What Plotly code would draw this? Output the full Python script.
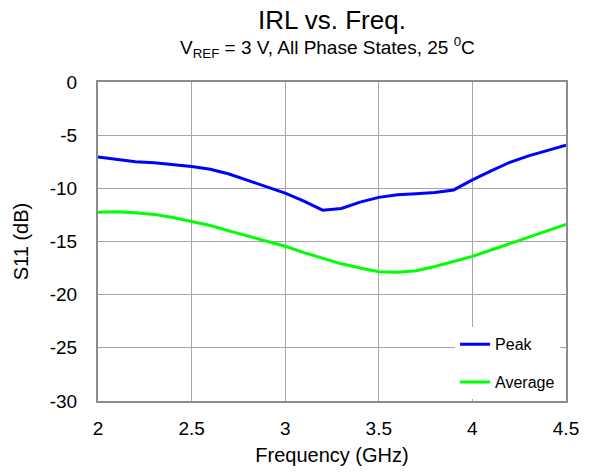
import plotly.graph_objects as go

freq = [2.0, 2.1, 2.2, 2.3, 2.4, 2.5, 2.6, 2.7, 2.8, 2.9, 3.0, 3.1, 3.2, 3.3, 3.4,
        3.5, 3.6, 3.7, 3.8, 3.9, 4.0, 4.1, 4.2, 4.3, 4.4, 4.5]
peak = [-7.05, -7.25, -7.5, -7.6, -7.75, -7.95, -8.2, -8.65, -9.25, -9.85, -10.45,
        -11.2, -12.05, -11.9, -11.3, -10.85, -10.6, -10.5, -10.4, -10.15, -9.2,
        -8.35, -7.55, -6.95, -6.45, -5.95]
average = [-12.25, -12.2, -12.3, -12.45, -12.75, -13.1, -13.5, -14.0, -14.5, -15.0,
           -15.45, -16.05, -16.6, -17.1, -17.5, -17.85, -17.9, -17.75, -17.35, -16.9,
           -16.4, -15.8, -15.2, -14.6, -14.0, -13.4]

x_ticks = [2, 2.5, 3, 3.5, 4, 4.5]
x_labels = ["2", "2.5", "3", "3.5", "4", "4.5"]
y_ticks = [0, -5, -10, -15, -20, -25, -30]
y_labels = ["0", "-5", "-10", "-15", "-20", "-25", "-30"]

title_text = "IRL vs. Freq."
subtitle_text = "V<sub>REF</sub> = 3 V, All Phase States, 25 <sup>0</sup>C"

FONT = "Liberation Sans, Arial, sans-serif"
GRID = "#a6a6a6"
FRAME = "#8c8c8c"

fig = go.Figure()
fig.add_trace(go.Scatter(x=freq, y=peak, mode="lines", name="Peak", legendgroup="p",
                         line=dict(color="#0000ff", width=3)))
fig.add_trace(go.Scatter(x=freq, y=average, mode="lines", name="Average", legendgroup="a",
                         line=dict(color="#00ff00", width=3)))

fig.update_layout(
    width=592, height=473,
    margin=dict(l=98, r=26, t=82, b=72),
    paper_bgcolor="white", plot_bgcolor="white",
    font=dict(family=FONT, color="black", size=19),
    xaxis=dict(
        range=[2, 4.5], tickvals=x_ticks, ticktext=x_labels, automargin=False,
        showgrid=True, gridcolor=GRID, gridwidth=1,
        showline=True, linecolor=FRAME, linewidth=2, mirror=True,
        zeroline=False, ticks="", tickfont=dict(size=19), ticklabelstandoff=9,
        title=dict(text="Frequency (GHz)", font=dict(size=20), standoff=10),
    ),
    yaxis=dict(
        range=[-30, 0], tickvals=y_ticks, ticktext=y_labels, automargin=False,
        showgrid=True, gridcolor=GRID, gridwidth=1,
        showline=True, linecolor=FRAME, linewidth=2, mirror=True,
        zeroline=False, ticks="", tickfont=dict(size=19), ticklabelstandoff=15,
        title=dict(text="S11 (dB)", font=dict(size=20), standoff=16),
    ),
    legend=dict(
        x=0.763, y=0.231, xanchor="left", yanchor="top",
        bgcolor="rgba(255,255,255,1)", borderwidth=0,
        font=dict(size=16, family=FONT), tracegroupgap=14,
        itemwidth=30,
    ),
    showlegend=True,
    annotations=[
        dict(text=title_text, xref="paper", yref="paper", x=0.5, y=1.194,
             xanchor="center", yanchor="middle", showarrow=False,
             font=dict(size=26, family=FONT)),
        dict(text=subtitle_text, xref="paper", yref="paper", x=0.49, y=1.108,
             xanchor="center", yanchor="middle", showarrow=False,
             font=dict(size=19, family=FONT)),
    ],
)

fig.write_html(
    "out.html",
    config={"displayModeBar": False},
    post_script="document.body.style.margin='0';document.body.style.overflow='hidden';",
)
